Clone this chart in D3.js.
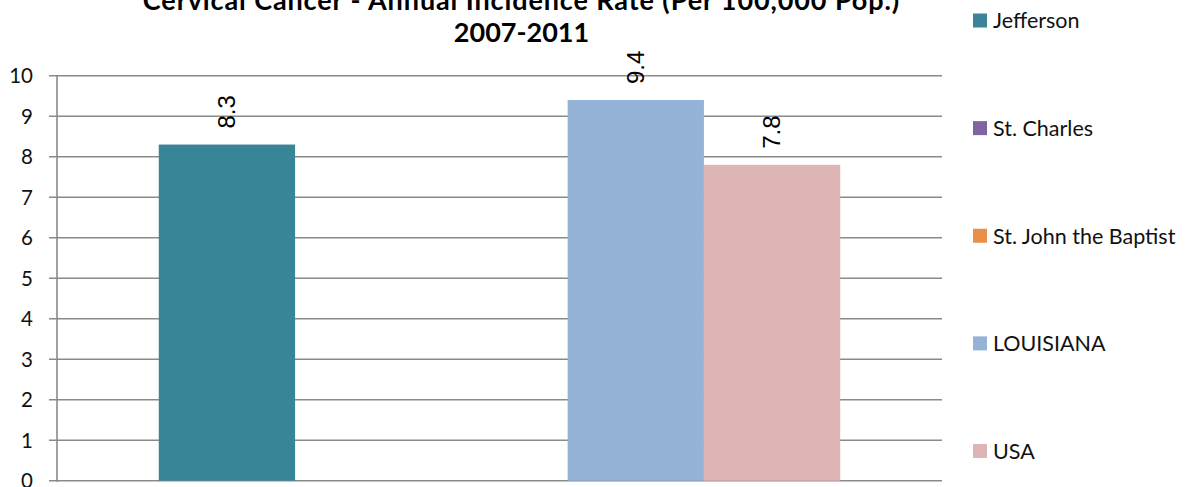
<!DOCTYPE html>
<html>
<head>
<meta charset="utf-8">
<script src="https://cdn.jsdelivr.net/npm/d3@7"></script>
<style>
  html, body { margin: 0; padding: 0; background: #fff; }
  svg { display: block; }
</style>
</head>
<body>
<script>
// ---- data ----
const titleLines = ["Cervical Cancer - Annual Incidence Rate (Per 100,000 Pop.)", "2007-2011"];
const categories = ["2007-2011"];
const seriesNames = ["Jefferson", "St. Charles", "St. John the Baptist", "LOUISIANA", "USA"];
const seriesValues = [8.3, null, null, 9.4, 7.8];
const seriesColors = ["#388597", "#8064A2", "#E98F47", "#95B3D7", "#DEB5B5"];
const yTicks = [0, 1, 2, 3, 4, 5, 6, 7, 8, 9, 10];

// ---- layout ----
const W = 1186, H = 487;
const plot = { left: 57, right: 942, top: 75.7, bottom: 480.7 };

const svg = d3.select("body").append("svg").attr("width", W).attr("height", H);

const y = d3.scaleLinear().domain([0, 10]).range([plot.bottom, plot.top]);
const x0 = d3.scaleBand().domain(categories).range([plot.left, plot.right])
  .paddingInner(0.23).paddingOuter(0.115);
const x1 = d3.scaleBand().domain(seriesNames).range([0, x0.bandwidth()]).padding(0);
const color = d3.scaleOrdinal().domain(seriesNames).range(seriesColors);

// gridlines
svg.append("g").selectAll("line").data(yTicks).join("line")
  .attr("x1", plot.left - 8).attr("x2", plot.right)
  .attr("y1", d => y(d)).attr("y2", d => y(d))
  .attr("stroke", "#8a8a8a").attr("stroke-width", 1.6);

// y axis
const yAxis = d3.axisLeft(y).tickValues(yTicks).tickSize(0).tickPadding(0).tickFormat(d3.format("d"));
const gy = svg.append("g").attr("transform", `translate(${plot.left},0)`).call(yAxis);
gy.select(".domain").remove();
gy.selectAll("text").attr("x", -24).attr("dy", "0.35em")
  .attr("font-family", "Lato, 'Open Sans', sans-serif").attr("font-size", 20.5).attr("fill", "#111");
svg.append("line").attr("x1", plot.left).attr("x2", plot.left)
  .attr("y1", plot.top).attr("y2", plot.bottom + 1)
  .attr("stroke", "#8a8a8a").attr("stroke-width", 1.6);

// bars
const rows = seriesNames.map((s, i) => ({ cat: categories[0], series: s, value: seriesValues[i] }))
  .filter(d => d.value != null);
const gBars = svg.append("g");
gBars.selectAll("rect").data(rows).join("rect")
  .attr("x", d => x0(d.cat) + x1(d.series))
  .attr("width", x1.bandwidth())
  .attr("y", d => y(d.value))
  .attr("height", d => y(0) - y(d.value))
  .attr("fill", d => color(d.series));

// data labels (rotated)
gBars.selectAll("text").data(rows).join("text")
  .attr("transform", d => `translate(${x0(d.cat) + x1(d.series) + x1.bandwidth() / 2},${y(d.value) - 16}) rotate(-90)`)
  .attr("dy", "0.35em")
  .attr("text-anchor", "start")
  .attr("font-family", "'Liberation Sans', Arial, sans-serif")
  .attr("font-size", 24)
  .attr("fill", "#000")
  .text(d => d3.format(".1f")(d.value));

// title
svg.append("text")
  .attr("x", 521.5).attr("text-anchor", "middle")
  .attr("font-family", "Lato, 'Open Sans', sans-serif").attr("font-weight", "bold")
  .attr("font-size", 27).attr("fill", "#000")
  .selectAll("tspan").data(titleLines).join("tspan")
  .attr("x", 521.5).attr("y", (d, i) => 9.5 + i * 32.5)
  .attr("letter-spacing", (d, i) => i === 0 ? 0.9 : 0)
  .text(d => d);

// legend
const legendY = d3.scalePoint().domain(seriesNames).range([20.5, 451]);
const lg = svg.append("g").selectAll("g").data(seriesNames).join("g")
  .attr("transform", d => `translate(973,${legendY(d)})`);
lg.append("rect").attr("x", 0).attr("y", -7).attr("width", 14).attr("height", 14)
  .attr("fill", d => color(d));
lg.append("text").attr("x", 20).attr("dy", "0.36em")
  .attr("font-family", "Lato, 'Open Sans', sans-serif").attr("font-size", 21.5).attr("fill", "#111")
  .text(d => d);
</script>
</body>
</html>
